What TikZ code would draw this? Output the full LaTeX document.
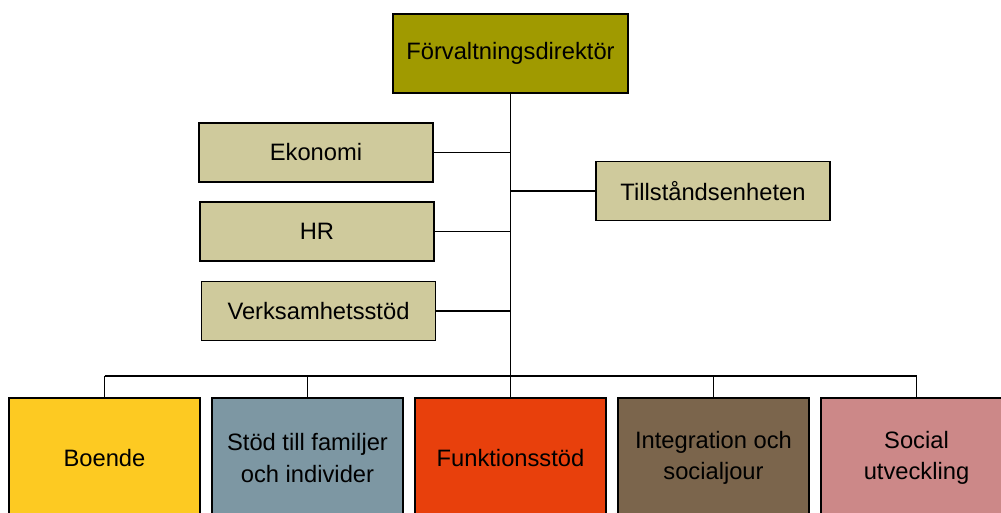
\documentclass[tikz,border=0pt]{standalone}
\usepackage{fontspec}
\setmainfont{Liberation Sans}
\usepackage{xcolor}
\usepackage{tikz}
\usetikzlibrary{positioning, calc}
\definecolor{directorolive}{RGB}{160, 154, 0}
\definecolor{staffkhaki}{RGB}{207, 202, 156}
\definecolor{boendeyellow}{RGB}{253, 202, 34}
\definecolor{stodgray}{RGB}{125, 151, 163}
\definecolor{funkred}{RGB}{232, 64, 12}
\definecolor{integbrown}{RGB}{123, 101, 76}
\definecolor{socialpink}{RGB}{204, 136, 136}

\begin{document}
\begin{tikzpicture}[
    x=0.02cm, y=-0.02cm,
    box/.style={rectangle, draw=black, line width=1pt, align=center, font=\fontsize{13.5}{18}\selectfont},
    staff/.style={box, fill=staffkhaki, minimum width=4.68cm, minimum height=1.18cm},
    unit/.style={box, minimum width=3.82cm, minimum height=2.4cm},
    link/.style={line width=1pt}
]
    \clip (0, 0) rectangle (1001, 513);
    \useasboundingbox (0, 0) rectangle (1001, 513);

    % Director
    \node[box, fill=directorolive, minimum width=4.7cm, minimum height=1.58cm] (dir) at (510.5, 53.5) {Förvaltningsdirektör};

    % Staff functions
    \node[staff] (eko) at (316, 152.5) {Ekonomi};
    \node[staff] (hr) at (317, 231.5) {HR};
    \node[staff] (vst) at (318.5, 311) {Verksamhetsstöd};
    \node[staff] (till) at (713, 191) {Tillståndsenheten};

    % Departments
    \node[unit, fill=boendeyellow] (boende) at (104.5, 458) {Boende};
    \node[unit, fill=stodgray] (stod) at (307.5, 458) {Stöd till familjer\\och individer};
    \node[unit, fill=funkred] (funk) at (510.5, 458) {Funktionsstöd};
    \node[unit, fill=integbrown] (integ) at (713.5, 458) {Integration och\\socialjour};
    \node[unit, fill=socialpink] (social) at (916.5, 458) {Social\\utveckling};

    % Connectors
    \coordinate (bar) at (0, 376);
    \draw[link] (dir.south) -- (dir.south |- bar);
    \draw[link] (eko.east) -- (eko.east -| dir.south);
    \draw[link] (hr.east) -- (hr.east -| dir.south);
    \draw[link] (vst.east) -- (vst.east -| dir.south);
    \draw[link] (till.west) -- (till.west -| dir.south);
    \draw[link] (boende.north |- bar) -- (social.north |- bar);
    \foreach \u in {boende, stod, funk, integ, social}
        \draw[link] (\u.north) -- (\u.north |- bar);
\end{tikzpicture}
\end{document}
